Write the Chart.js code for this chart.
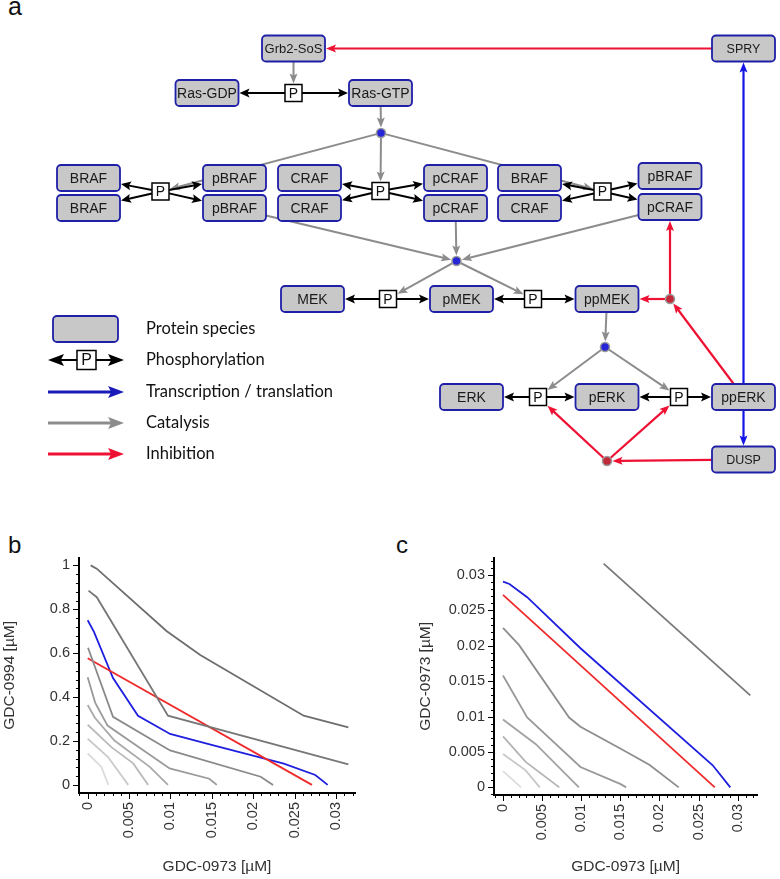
<!DOCTYPE html>
<html>
<head>
<meta charset="utf-8">
<script src="https://cdn.jsdelivr.net/npm/chart.js@4.4.0/dist/chart.umd.min.js"></script>
<style>
body{margin:0;background:#fff;width:780px;height:879px;position:relative;overflow:hidden;font-family:"Liberation Sans",Arial,sans-serif}
.lbl{position:absolute;line-height:1;color:#111}
canvas{position:absolute}
</style>
</head>
<body>
<div class="lbl" style="left:8px;top:-6px;font-size:25px">a</div>
<div class="lbl" style="left:8px;top:533px;font-size:24px">b</div>
<div class="lbl" style="left:396px;top:533px;font-size:24px">c</div>
<canvas id="net" width="780" height="480" style="left:0;top:0"></canvas>
<canvas id="chartB" width="380" height="339" style="left:0;top:540px"></canvas>
<canvas id="chartC" width="390" height="339" style="left:390px;top:540px"></canvas>
<script>
// ---- network (panel a) ----
var speciesId = ['grb2','rasgdp','rasgtp','braf1','braf2','pbraf1','pbraf2','craf1','craf2','pcraf1','pcraf2','braf3','craf3','pbraf3','pcraf3','spry','mek','pmek','ppmek','erk','perk','pperk','dusp'];
var speciesLabel = ['Grb2-SoS','Ras-GDP','Ras-GTP','BRAF','BRAF','pBRAF','pBRAF','CRAF','CRAF','pCRAF','pCRAF','BRAF','CRAF','pBRAF','pCRAF','SPRY','MEK','pMEK','ppMEK','ERK','pERK','ppERK','DUSP'];
var speciesX = [293.5,207,380.5,88.5,88.5,234.5,234.5,309.5,309.5,455.5,455.5,529.5,529.5,670,670,743.5,312.5,461.5,607,471.5,607,743.5,743.5];
var speciesY = [48.5,93,93,178,208,178,208,178,208,178,208,178,208,176,207,48.5,299,299,299,397,397,397,459.5];

var procId = ['p_ras','p_raf1','p_raf2','p_raf3','p_mek1','p_mek2','p_erk1','p_erk2'];
var procX = [293.5,160.5,380.5,602.5,388,533,538,679];
var procY = [93,191.5,191,191.5,299,299,397,397];

var hubId = ['d_ras','d_raf','d_mek','d_inh1','d_inh2'];
var hubKind = ['cat','cat','cat','inh','inh'];
var hubX = [381,456.5,605,670,607];
var hubY = [133,261,347,299,461];

var edges = [
  ['spry','grb2','inh'], ['grb2','p_ras','cat'], ['p_ras','rasgdp','phos'], ['p_ras','rasgtp','phos'],
  ['rasgtp','d_ras','cat'], ['d_ras','p_raf1','cat'], ['d_ras','p_raf2','cat'], ['d_ras','p_raf3','cat'],
  ['p_raf1','braf1','phos'], ['p_raf1','braf2','phos'], ['p_raf1','pbraf1','phos'], ['p_raf1','pbraf2','phos'],
  ['p_raf2','craf1','phos'], ['p_raf2','craf2','phos'], ['p_raf2','pcraf1','phos'], ['p_raf2','pcraf2','phos'],
  ['p_raf3','braf3','phos'], ['p_raf3','craf3','phos'], ['p_raf3','pbraf3','phos'], ['p_raf3','pcraf3','phos'],
  ['pbraf2','d_raf','cat'], ['pcraf2','d_raf','cat'], ['pcraf3','d_raf','cat'],
  ['d_raf','p_mek1','cat'], ['d_raf','p_mek2','cat'],
  ['p_mek1','mek','phos'], ['p_mek1','pmek','phos'], ['p_mek2','pmek','phos'], ['p_mek2','ppmek','phos'],
  ['ppmek','d_mek','cat'], ['d_mek','p_erk1','cat'], ['d_mek','p_erk2','cat'],
  ['p_erk1','erk','phos'], ['p_erk1','perk','phos'], ['p_erk2','perk','phos'], ['p_erk2','pperk','phos'],
  ['pperk','spry','tx'], ['pperk','dusp','tx'],
  ['dusp','d_inh2','inh'], ['d_inh2','p_erk1','inh'], ['d_inh2','p_erk2','inh'],
  ['pperk','d_inh1','inh'], ['d_inh1','ppmek','inh'], ['d_inh1','pcraf3','inh']
];

var legendLabels = ['Protein species','Phosphorylation','Transcription / translation','Catalysis','Inhibition'];

// ---- panel b: GDC-0994 vs GDC-0973 ----
var bGray1X = [0.00036,0.00109,0.00956,0.0136,0.0261,0.0315];
var bGray1Y = [1.0,0.985,0.70,0.592,0.315,0.262];
var bGray2X = [0.0001,0.0011,0.0097,0.0315];
var bGray2Y = [0.885,0.855,0.315,0.093];
var bGray3X = [0.00004,0.00306,0.00996,0.0209,0.0224];
var bGray3Y = [0.625,0.31,0.157,0.037,0];
var bGray4X = [0,0.0009,0.0024,0.0099,0.0147,0.0156];
var bGray4Y = [0.49,0.375,0.27,0.075,0.028,0];
var bGray5X = [0,0.00085,0.00323,0.0075,0.0097];
var bGray5Y = [0.364,0.307,0.202,0.082,0];
var bGray6X = [0,0.00286,0.0055,0.0073];
var bGray6Y = [0.274,0.172,0.098,0];
var bGray7X = [0,0.00246,0.0049];
var bGray7Y = [0.21,0.127,0];
var bGray8X = [0,0.00165,0.0025];
var bGray8Y = [0.143,0.082,0];
var bBlueX = [0,0.00076,0.00306,0.00608,0.00996,0.0152,0.0237,0.0275,0.029];
var bBlueY = [0.75,0.697,0.487,0.315,0.232,0.18,0.097,0.045,0];
var bRedX = [0,0.0271];
var bRedY = [0.577,0];

// ---- panel c: GDC-0973 vs GDC-0973 ----
var cGray1X = [0.01286,0.0316];
var cGray1Y = [0.03163,0.013];
var cGray2X = [0,0.00206,0.00845,0.0099,0.01504,0.0187,0.02246];
var cGray2Y = [0.02255,0.0201,0.00987,0.00857,0.00545,0.0032,0];
var cGray3X = [0,0.00309,0.0099,0.01504,0.01574];
var cGray3Y = [0.0158,0.00987,0.00288,0.00046,0];
var cGray4X = [0,0.0042,0.0097];
var cGray4Y = [0.0096,0.0061,0];
var cGray5X = [0,0.0029,0.0072];
var cGray5Y = [0.0072,0.0036,0];
var cGray6X = [0,0.0029,0.0047];
var cGray6Y = [0.0047,0.0024,0];
var cGray7X = [0,0.001,0.0023];
var cGray7Y = [0.0023,0.0013,0];
var cBlueX = [0,0.00082,0.00309,0.0099,0.0268,0.02905];
var cBlueY = [0.02907,0.02874,0.02688,0.01966,0.00312,0];
var cRedX = [0,0.02707];
var cRedY = [0.0272,0];

Chart.defaults.font.family = '"Liberation Sans", Arial, sans-serif';
Chart.defaults.color = '#333';

var BOX_W = 63, BOX_H = 26, P_SIZE = 17, HUB_R = 4.5;
var edgeStyle = {
  phos: {color: '#000', width: 2, head: 10, half: 4.5},
  cat: {color: '#8c8c8c', width: 2, head: 10, half: 4},
  tx: {color: '#1414e6', width: 2.2, head: 10, half: 4},
  inh: {color: '#ee1133', width: 2.2, head: 10, half: 4}
};

var nodeIds = [], nodeType = [], nodeLabel = [], nodePts = [];
speciesId.forEach(function(id, i){ nodeIds.push(id); nodeType.push('box'); nodeLabel.push(speciesLabel[i]); nodePts.push({x: speciesX[i], y: speciesY[i]}); });
procId.forEach(function(id, i){ nodeIds.push(id); nodeType.push('proc'); nodeLabel.push('P'); nodePts.push({x: procX[i], y: procY[i]}); });
hubId.forEach(function(id, i){ nodeIds.push(id); nodeType.push(hubKind[i]); nodeLabel.push(''); nodePts.push({x: hubX[i], y: hubY[i]}); });

function edgePoint(n, tx, ty, gap) {
  var dx = tx - n.x, dy = ty - n.y, len = Math.hypot(dx, dy);
  if (n.type === 'cat' || n.type === 'inh') {
    return {x: n.x + dx / len * (HUB_R + gap), y: n.y + dy / len * (HUB_R + gap)};
  }
  var hw = (n.type === 'box' ? BOX_W / 2 : P_SIZE / 2) + gap;
  var hh = (n.type === 'box' ? BOX_H / 2 : P_SIZE / 2) + gap;
  var t = Math.min(dx ? hw / Math.abs(dx) : Infinity, dy ? hh / Math.abs(dy) : Infinity);
  return {x: n.x + dx * t, y: n.y + dy * t};
}

function arrow(ctx, x1, y1, x2, y2, st, head, half) {
  var a = Math.atan2(y2 - y1, x2 - x1), L = head || st.head, W = half || st.half;
  var c = Math.cos(a), s = Math.sin(a);
  ctx.strokeStyle = st.color; ctx.lineWidth = st.width;
  ctx.beginPath(); ctx.moveTo(x1, y1); ctx.lineTo(x2 - c * L * 0.7, y2 - s * L * 0.7); ctx.stroke();
  ctx.fillStyle = st.color;
  ctx.beginPath();
  ctx.moveTo(x2, y2);
  ctx.lineTo(x2 - c * L + s * W, y2 - s * L - c * W);
  ctx.lineTo(x2 - c * L * 0.8, y2 - s * L * 0.8);
  ctx.lineTo(x2 - c * L - s * W, y2 - s * L + c * W);
  ctx.closePath(); ctx.fill();
}

function drawBox(ctx, x, y, w, h, label, size) {
  ctx.beginPath();
  ctx.roundRect(x - w / 2, y - h / 2, w, h, 4);
  ctx.fillStyle = '#c8c8c8'; ctx.fill();
  ctx.lineWidth = 1.8; ctx.strokeStyle = '#1f1fa8'; ctx.stroke();
  if (label) {
    ctx.fillStyle = '#1a1a1a';
    ctx.font = size + 'px "Liberation Sans", Arial, sans-serif';
    ctx.textAlign = 'center'; ctx.textBaseline = 'middle';
    ctx.fillText(label, x, y + 1);
  }
}

function drawProc(ctx, x, y, s) {
  ctx.fillStyle = '#fff'; ctx.fillRect(x - s / 2, y - s / 2, s, s);
  ctx.lineWidth = 1.5; ctx.strokeStyle = '#000'; ctx.strokeRect(x - s / 2, y - s / 2, s, s);
  ctx.fillStyle = '#111';
  ctx.font = (s - 3) + 'px "Liberation Sans", Arial, sans-serif';
  ctx.textAlign = 'center'; ctx.textBaseline = 'middle';
  ctx.fillText('P', x, y + 1);
}

var labelSize = {'Grb2-SoS': 13, 'SPRY': 12.5, 'DUSP': 12.5};

var netPlugin = {
  id: 'net',
  afterDraw: function(chart) {
    var ctx = chart.ctx, xs = chart.scales.x, ys = chart.scales.y;
    var pts = chart.getDatasetMeta(0).data;
    var pos = {};
    nodeIds.forEach(function(id, i){ pos[id] = {x: pts[i].x, y: pts[i].y, type: nodeType[i], label: nodeLabel[i]}; });
    ctx.save();
    ctx.lineCap = 'butt';
    edges.forEach(function(e){
      var a = pos[e[0]], b = pos[e[1]];
      var p1 = edgePoint(a, b.x, b.y, 0), p2 = edgePoint(b, a.x, a.y, 1);
      arrow(ctx, p1.x, p1.y, p2.x, p2.y, edgeStyle[e[2]]);
    });
    nodeIds.forEach(function(id){
      var n = pos[id];
      if (n.type === 'box') drawBox(ctx, n.x, n.y, BOX_W, BOX_H, n.label, labelSize[n.label] || 14);
      else if (n.type === 'proc') drawProc(ctx, n.x, n.y, P_SIZE);
      else {
        ctx.beginPath(); ctx.arc(n.x, n.y, HUB_R, 0, Math.PI * 2);
        ctx.fillStyle = n.type === 'cat' ? '#2626d6' : '#c22a3a'; ctx.fill();
        ctx.lineWidth = 1.5; ctx.strokeStyle = '#999999'; ctx.stroke();
      }
    });
    // legend
    var lx = xs.getPixelForValue(48), rx = xs.getPixelForValue(124), tx = xs.getPixelForValue(146);
    var rows = [329, 360, 392, 423, 454].map(function(v){ return ys.getPixelForValue(v); });
    drawBox(ctx, xs.getPixelForValue(85.5), rows[0], 65, 26, '', 14);
    var mid = xs.getPixelForValue(86.5);
    arrow(ctx, mid - 9, rows[1], lx, rows[1], edgeStyle.phos, 16, 6);
    arrow(ctx, mid + 9, rows[1], rx, rows[1], edgeStyle.phos, 16, 6);
    drawProc(ctx, mid, rows[1], 19);
    arrow(ctx, lx, rows[2], rx, rows[2], {color: '#1a1ab8', width: 3, head: 16, half: 6});
    arrow(ctx, lx, rows[3], rx, rows[3], {color: '#8c8c8c', width: 3, head: 16, half: 6});
    arrow(ctx, lx, rows[4], rx, rows[4], {color: '#ee1133', width: 3, head: 16, half: 6});
    ctx.fillStyle = '#111';
    ctx.font = '16.5px Lato, "Open Sans", sans-serif';
    ctx.textAlign = 'left'; ctx.textBaseline = 'middle';
    legendLabels.forEach(function(t, i){ ctx.fillText(t, tx, rows[i]); });
    ctx.restore();
  }
};

new Chart(document.getElementById('net'), {
  type: 'scatter',
  data: {datasets: [{data: nodePts, pointRadius: 0}]},
  options: {
    responsive: false, animation: false, events: [],
    layout: {padding: 0},
    plugins: {legend: {display: false}, tooltip: {enabled: false}},
    scales: {
      x: {type: 'linear', min: 0, max: 780, display: false},
      y: {type: 'linear', min: 0, max: 480, reverse: true, display: false}
    }
  },
  plugins: [netPlugin]
});

// ---- isobologram charts ----
function isMajor(v, major) {
  var r = v / major;
  return Math.abs(r - Math.round(r)) < 1e-6;
}

// axis lines and major/minor tick marks, placed by the chart's own scales
function axisMarks(xMajor, yMajor) {
  return {
    id: 'axisMarks',
    afterDatasetsDraw: function(chart) {
      var ctx = chart.ctx, a = chart.chartArea, xs = chart.scales.x, ys = chart.scales.y;
      ctx.save();
      ctx.setTransform(1, 0, 0, 1, 0, 0);
      ctx.globalAlpha = 1;
      ctx.globalCompositeOperation = 'source-over';
      ctx.setLineDash([]);
      ctx.strokeStyle = '#000000';
      ctx.lineWidth = 1;
      ctx.beginPath();
      xs.ticks.forEach(function(t){
        var p = Math.round(xs.getPixelForValue(t.value)) + 0.5;
        ctx.moveTo(p, a.bottom); ctx.lineTo(p, a.bottom + (isMajor(t.value, xMajor) ? 6 : 3));
      });
      ys.ticks.forEach(function(t){
        var p = Math.round(ys.getPixelForValue(t.value)) + 0.5;
        ctx.moveTo(a.left, p); ctx.lineTo(a.left - (isMajor(t.value, yMajor) ? 6 : 3), p);
      });
      ctx.stroke();
      ctx.lineWidth = 2;
      ctx.strokeStyle = '#000000';
      ctx.beginPath();
      ctx.moveTo(a.left, a.top); ctx.lineTo(a.left, a.bottom); ctx.lineTo(a.right, a.bottom);
      ctx.stroke();
      ctx.restore();
    }
  };
}

function series(xs, ys, color, width) {
  return {
    data: xs.map(function(v, i){ return {x: v, y: ys[i]}; }),
    borderColor: color, borderWidth: width || 1.8,
    showLine: true, pointRadius: 0, tension: 0, fill: false
  };
}

function axis(min, max, minor, major, title, titlePad, rotate, size) {
  return {
    type: 'linear', min: min, max: max,
    border: {display: true, color: '#000000', width: 2},
    grid: {display: false, drawTicks: false},
    ticks: {stepSize: minor, includeBounds: false, autoSkip: false, padding: 9,
      minRotation: rotate, maxRotation: rotate,
      font: {size: 14.5}, color: '#333',
      callback: function(v){ return isMajor(v, major) ? String(parseFloat(v.toFixed(4))) : ''; }},
    title: {display: true, text: title, font: {size: 15.5}, color: '#333', padding: titlePad},
    afterFit: function(s){ if (s.isHorizontal()) s.height = size; else s.width = size; }
  };
}

function isoChart(id, sets, pad, xs, ys, xMajor, yMajor) {
  return new Chart(document.getElementById(id), {
    type: 'scatter',
    data: {datasets: sets},
    options: {
      responsive: false, animation: false, events: [],
      layout: {padding: pad},
      plugins: {legend: {display: false}, tooltip: {enabled: false}},
      scales: {x: xs, y: ys}
    },
    plugins: [axisMarks(xMajor, yMajor)]
  });
}

isoChart('chartB', [
  series(bGray8X, bGray8Y, '#dcdcdc'), series(bGray7X, bGray7Y, '#cacaca'),
  series(bGray6X, bGray6Y, '#bbbbbb'), series(bGray5X, bGray5Y, '#aaaaaa'),
  series(bGray4X, bGray4Y, '#9a9a9a'), series(bGray3X, bGray3Y, '#8a8a8a'),
  series(bGray2X, bGray2Y, '#777777'), series(bGray1X, bGray1Y, '#6e6e6e'),
  series(bRedX, bRedY, '#ee2a2a'), series(bBlueX, bBlueY, '#1f1fe0')
], {top: 12, right: 25, left: 0, bottom: 0},
  axis(-0.00105, 0.0323, 0.001, 0.005, 'GDC-0973 [µM]', {top: 0, bottom: 3}, 90, 86),
  axis(-0.037, 1.035, 0.04, 0.2, 'GDC-0994 [µM]', {top: 0, bottom: 0}, 0, 79),
  0.005, 0.2);

isoChart('chartC', [
  series(cGray7X, cGray7Y, '#dcdcdc'), series(cGray6X, cGray6Y, '#c8c8c8'),
  series(cGray5X, cGray5Y, '#b4b4b4'), series(cGray4X, cGray4Y, '#a2a2a2'),
  series(cGray3X, cGray3Y, '#999999'), series(cGray2X, cGray2Y, '#8e8e8e'),
  series(cGray1X, cGray1Y, '#7a7a7a'),
  series(cRedX, cRedY, '#ee2a2a'), series(cBlueX, cBlueY, '#1f1fe0')
], {top: 12, right: 14, left: 0, bottom: 0},
  axis(-0.00115, 0.03248, 0.001, 0.005, 'GDC-0973 [µM]', {top: 0, bottom: 3}, 90, 84),
  axis(-0.00108, 0.03246, 0.001, 0.005, 'GDC-0973 [µM]', {top: 26, bottom: 0}, 0, 104),
  0.005, 0.005);
</script>
</body>
</html>
